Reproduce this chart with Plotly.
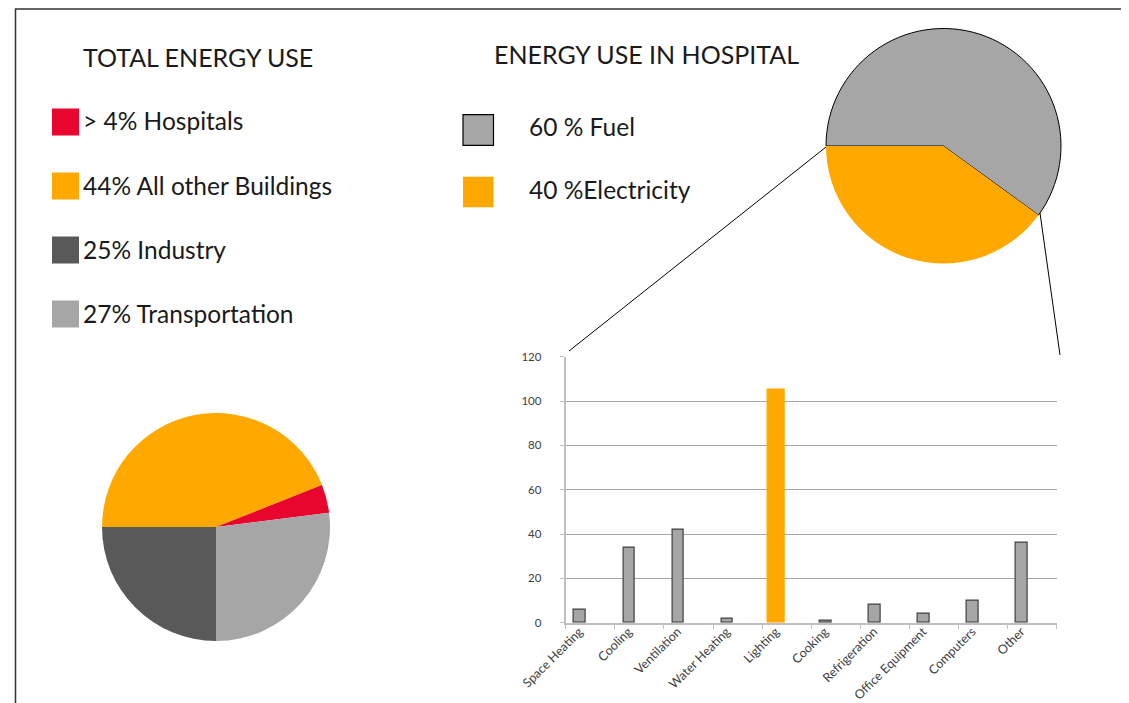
import plotly.graph_objects as go

W, H = 1129, 703
OFF = 8  # page body margin in the browser

# ---- data ----
total_labels = ["All other Buildings", "Hospitals", "Transportation", "Industry"]
total_values = [44, 4, 27, 25]
total_colors = ["#FFA800", "#E8062F", "#A6A6A6", "#595959"]

legend_total = ["> 4% Hospitals", "44% All other Buildings", "25% Industry", "27% Transportation"]
legend_total_colors = ["#E8062F", "#FFA800", "#595959", "#A6A6A6"]

hosp_labels = ["Fuel", "Electricity"]
hosp_values = [60, 40]
hosp_colors = ["#A6A6A6", "#FFA800"]
legend_hosp = ["60 % Fuel", "40 %Electricity"]

categories = ["Space Heating", "Cooling", "Ventilation", "Water Heating", "Lighting",
              "Cooking", "Refrigeration", "Office Equipment", "Computers", "Other"]
use_values = [6, 34, 42, 2, 105, 1, 8, 4, 10, 36]
highlight = "Lighting"

FONT = "Lato"


def px(x):
    return (x - OFF) / W


def py(y):
    return 1 - (y - OFF) / H


fig = go.Figure()

fig.add_trace(go.Pie(
    labels=total_labels, values=total_values, sort=False, direction="clockwise",
    rotation=270, marker=dict(colors=total_colors, line=dict(width=0)),
    textinfo="none", hoverinfo="label+percent", showlegend=False,
    domain=dict(x=[px(102), px(330)], y=[py(641), py(413)]),
))

fig.add_trace(go.Pie(
    labels=hosp_labels, values=hosp_values, sort=False, direction="clockwise",
    rotation=270,
    marker=dict(colors=hosp_colors, line=dict(color=["#000000", "rgba(0,0,0,0)"], width=[1, 0])),
    textinfo="none", hoverinfo="label+percent", showlegend=False,
    domain=dict(x=[px(826), px(1061)], y=[py(264), py(28)]),
))

widths = [0.35 if c == highlight else 0.235 for c in categories]
offsets = [-0.21 - w / 2 for w in widths]
bar_colors = ["#FFA800" if c == highlight else "#A6A6A6" for c in categories]
line_colors = ["#FFA800" if c == highlight else "#404040" for c in categories]

fig.add_trace(go.Bar(
    x=categories, y=use_values, width=widths, offset=offsets,
    marker=dict(color=bar_colors, line=dict(color=line_colors, width=1.2)),
    showlegend=False, xaxis="x", yaxis="y",
))

fig.update_layout(
    width=W, height=H,
    autosize=False,
    margin=dict(l=0, r=0, t=0, b=0, pad=0, autoexpand=False),
    paper_bgcolor="white", plot_bgcolor="white",
    font=dict(family=FONT, color="#1a1a1a"),
    xaxis=dict(domain=[px(565.7), px(1056.7)], anchor="y", automargin=False,
               showline=True, linecolor="#BFBFBF", linewidth=1.5,
               ticks="outside", tickson="boundaries", ticklen=5, tickcolor="#BFBFBF",
               tickangle=-45, tickfont=dict(size=12.5, color="#404040", family=FONT),
               ticklabelshift=-11, ticklabelstandoff=-5,
               showgrid=False, fixedrange=True),
    yaxis=dict(domain=[py(622.7), py(356.7)], anchor="x", range=[0, 120], dtick=20,
               automargin=False,
               showline=True, linecolor="#BFBFBF", linewidth=2,
               ticks="outside", ticklen=4, tickcolor="#BFBFBF",
               gridcolor="#A6A6A6", gridwidth=1, zeroline=False,
               tickfont=dict(size=11.5, color="#404040", family=FONT),
               ticklabelstandoff=16, fixedrange=True),
    bargap=0,
)

shapes = []
annotations = []

# frame
shapes.append(dict(type="rect", xref="paper", yref="paper",
                   x0=px(15.5), x1=px(1124.7), y0=-0.05, y1=py(9),
                   line=dict(color="#333333", width=1.5)))

# connector lines
shapes.append(dict(type="line", xref="paper", yref="paper",
                   x0=px(826), y0=py(147), x1=px(569), y1=py(351),
                   line=dict(color="#000000", width=1)))
shapes.append(dict(type="line", xref="paper", yref="paper",
                   x0=px(1040), y0=py(213), x1=px(1060), y1=py(355),
                   line=dict(color="#000000", width=1)))

# titles
annotations.append(dict(text="TOTAL ENERGY USE", xref="paper", yref="paper",
                        x=px(81), y=py(57), xanchor="left", yanchor="middle",
                        showarrow=False, font=dict(size=25, family=FONT, color="#1a1a1a")))
annotations.append(dict(text="ENERGY USE IN HOSPITAL", xref="paper", yref="paper",
                        x=px(492), y=py(54), xanchor="left", yanchor="middle",
                        showarrow=False, font=dict(size=25, family=FONT, color="#1a1a1a")))

# left legend
ys = [122, 186, 250, 314]
for txt, col, yc in zip(legend_total, legend_total_colors, ys):
    shapes.append(dict(type="rect", xref="paper", yref="paper",
                       x0=px(52), x1=px(79), y0=py(yc + 13.5), y1=py(yc - 13.5),
                       fillcolor=col, line=dict(width=0)))
    annotations.append(dict(text=txt, xref="paper", yref="paper",
                            x=px(81), y=py(yc - 1), xanchor="left", yanchor="middle",
                            showarrow=False, font=dict(size=24.5, family=FONT, color="#1a1a1a")))

# right legend
ys2 = [130, 192]
for i, (txt, col, yc) in enumerate(zip(legend_hosp, hosp_colors, ys2)):
    shapes.append(dict(type="rect", xref="paper", yref="paper",
                       x0=px(463), x1=px(493.5), y0=py(yc + 15.3), y1=py(yc - 15.3),
                       fillcolor=col,
                       line=dict(width=1.2 if i == 0 else 0, color="#000000")))
    annotations.append(dict(text=txt, xref="paper", yref="paper",
                            x=px(527), y=py(yc - 3), xanchor="left", yanchor="middle",
                            showarrow=False, font=dict(size=24.5, family=FONT, color="#1a1a1a")))

fig.update_layout(shapes=shapes, annotations=annotations)

fig.write_html("out.html")
